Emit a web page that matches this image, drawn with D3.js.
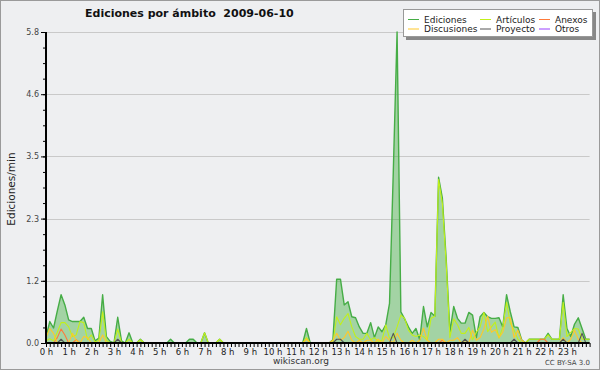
<!DOCTYPE html>
<html><head><meta charset="utf-8">
<script src="https://cdn.jsdelivr.net/npm/d3@7"></script>
<style>
html,body{margin:0;padding:0;background:#eeeff1;}
svg{display:block;font-family:"DejaVu Sans",sans-serif;}
</style></head>
<body>
<svg id="c" width="600" height="370"></svg>
<script>
// ---- data (10-minute steps, 0:00 .. 24:00) ----
const hourLabels = ["0 h","1 h","2 h","3 h","4 h","5 h","6 h","7 h","8 h","9 h","10 h","11 h","12 h","13 h","14 h","15 h","16 h","17 h","18 h","19 h","20 h","21 h","22 h","23 h"];
const yTickValues = [0, 1.16, 2.32, 3.48, 4.64, 5.8];
const yTickLabels = ["0.0","1.2","2.3","3.5","4.6","5.8"];
const seriesNames = ["Ediciones","Artículos","Anexos","Discusiones","Proyecto","Otros"];
const seriesColors = ["#46ad46","#c2f01a","#ff7a3a","#ffc82a","#555555","#9a40ff"];

const ediciones = [
 0.12,0.40,0.28,0.60,0.90,0.71,
 0.43,0.40,0.40,0.40,0.48,0.27,
 0.27,0.04,0.09,0.90,0.12,0.03,
 0,0.48,0.04,0,0.19,0,
 0,0.07,0,0,0,0,
 0,0,0,0.07,0,0,
 0,0,0.07,0.07,0,0,
 0.19,0,0,0,0.07,0,
 0,0,0,0,0,0,
 0,0,0,0,0,0,
 0,0,0,0,0,0,
 0,0,0,0.27,0,0,
 0,0,0,0,0.06,1.19,
 1.19,0.71,0.77,0.49,0.47,0.30,
 0.18,0.18,0.38,0.10,0.30,0.21,
 0.34,0.74,3.20,5.80,0.58,0.45,
 0.30,0.18,0.27,0.06,0.68,0.30,
 0.57,0.50,3.09,2.70,1.58,0.21,
 0.68,0.46,0.37,0.37,0.57,0.52,
 0.10,0.49,0.57,0.49,0.46,0.46,
 0.47,0.30,0.90,0.58,0.30,0.29,
 0.06,0,0.07,0.07,0.07,0.07,
 0.07,0.18,0.07,0.07,0.07,0.90,
 0.27,0.12,0.35,0.47,0.27,0.07,
 0.07];
const articulos = [
 0.04,0.08,0.04,0.20,0.38,0.38,
 0.30,0.12,0.15,0.40,0.38,0.06,
 0.15,0.02,0.05,0.58,0.05,0,
 0,0.26,0,0,0.07,0,
 0,0.06,0,0,0,0,
 0,0,0,0,0,0,
 0,0,0,0,0,0,
 0.19,0,0,0,0.07,0,
 0,0,0,0,0,0,
 0,0,0,0,0,0,
 0,0,0,0,0,0,
 0,0,0,0.10,0,0,
 0,0,0,0,0,0.49,
 0.34,0.46,0.55,0.30,0.12,0.07,
 0.07,0.18,0.06,0.10,0.03,0.05,
 0.34,0.09,0.10,0.30,0.52,0.46,
 0.24,0.15,0.12,0.15,0.12,0.05,
 0.46,0.50,3.05,2.60,1.50,0.10,
 0.45,0.34,0.18,0.18,0.29,0.06,
 0.20,0.30,0.57,0.21,0.30,0.39,
 0.09,0.30,0.76,0.37,0.24,0.07,
 0,0,0.07,0.07,0.07,0.07,
 0.07,0.15,0.07,0.07,0.07,0.76,
 0.12,0.20,0.27,0.26,0.07,0.07,
 0.07];
const anexos = [
 0,0,0,0.10,0.26,0.15,
 0,0,0.06,0,0,0,
 0,0,0,0,0,0,
 0,0,0,0,0,0,
 0,0,0,0,0,0,
 0,0,0,0,0,0,
 0,0,0,0,0,0,
 0,0,0,0,0,0,
 0,0,0,0,0,0,
 0,0,0,0,0,0,
 0,0,0,0,0,0,
 0,0,0,0,0,0,
 0,0,0,0,0,0,
 0,0,0,0,0,0,
 0,0,0,0,0,0,
 0,0,0,0,0,0,
 0,0,0,0,0,0,
 0,0,0,0.05,0,0,
 0,0,0,0,0,0,
 0,0,0,0,0,0,
 0,0,0,0,0,0,
 0,0,0,0,0,0.07,
 0.07,0,0,0,0,0,
 0,0,0,0,0,0,
 0];
const discusiones = [
 0.10,0.27,0.18,0,0,0,
 0,0.18,0.05,0,0.12,0.10,
 0,0,0,0.15,0,0,
 0,0,0,0,0,0,
 0,0,0,0,0,0,
 0,0,0,0,0,0,
 0,0,0,0,0,0,
 0,0,0,0,0,0,
 0,0,0,0,0,0,
 0,0,0,0,0,0,
 0,0,0,0,0,0,
 0,0,0,0.07,0,0,
 0,0,0,0,0.05,0.18,
 0.05,0.10,0.22,0.05,0,0.05,
 0,0.05,0.05,0,0.07,0,
 0.12,0.05,0,0.18,0.05,0,
 0,0.05,0,0.05,0.28,0.05,
 0,0,0.07,0.07,0,0.05,
 0.05,0.10,0,0.05,0,0.24,
 0.05,0.10,0.26,0.50,0.20,0.25,
 0.10,0.20,0.47,0.47,0.10,0.24,
 0.05,0,0,0,0,0,
 0,0,0,0,0,0.10,
 0,0.07,0.24,0.07,0,0,
 0];
const proyecto = [
 0,0,0,0,0.07,0,
 0,0,0,0,0,0,
 0,0,0,0,0,0,
 0,0.07,0,0,0,0,
 0,0,0,0,0,0,
 0,0,0,0,0,0,
 0,0,0,0,0,0,
 0,0,0,0,0,0,
 0,0,0,0,0,0,
 0,0,0,0,0,0,
 0,0,0,0,0,0,
 0,0,0,0,0,0,
 0,0,0,0,0,0.07,
 0.07,0,0,0,0,0,
 0,0,0,0,0,0,
 0,0,0.18,0,0,0,
 0,0,0,0,0,0,
 0,0,0,0,0,0,
 0,0,0,0.07,0,0,
 0,0,0,0,0,0,
 0,0,0,0,0.07,0,
 0,0,0,0,0,0,
 0,0,0,0,0,0.07,
 0,0,0,0,0.18,0,
 0];
const otros = [
 0,0,0,0,0,0, 0,0,0,0,0,0, 0,0,0,0,0,0, 0,0,0,0,0,0,
 0,0,0,0,0,0, 0,0,0,0,0,0, 0,0,0,0,0,0, 0,0,0,0,0,0,
 0,0,0,0,0,0, 0,0,0,0,0,0, 0,0,0,0,0,0, 0,0,0,0,0,0,
 0,0,0,0,0,0, 0,0,0,0,0,0, 0,0,0,0,0,0, 0,0,0,0,0,0,
 0,0,0,0,0,0, 0,0,0,0,0,0, 0,0,0,0,0,0, 0,0,0,0,0,0,
 0,0,0,0,0,0, 0,0,0,0,0,0, 0,0,0,0,0,0, 0,0,0,0,0,0,
 0];

// ---- drawing ----
const svg = d3.select("#c");
const W = 600, H = 370;
const x = d3.scaleLinear().domain([0, 144]).range([46, 589.6]);
const y = d3.scaleLinear().domain([0, 5.8]).range([343, 32]);

svg.append("rect").attr("x",0.5).attr("y",0.5).attr("width",W-1).attr("height",H-1)
  .attr("fill","#eeeff1").attr("stroke","#9a9a9a");

// grid
svg.append("g").selectAll("line").data(yTickValues.slice(1)).join("line")
  .attr("x1",x(0)).attr("x2",x(144)).attr("y1",d=>Math.round(y(d))+0.5).attr("y2",d=>Math.round(y(d))+0.5)
  .attr("stroke","#c9c9c9").attr("stroke-width",1);

// area + lines
const idx = d3.range(ediciones.length);
const area = d3.area().x(i=>x(i)).y0(y(0)).y1(i=>y(ediciones[i]));
svg.append("path").attr("d", area(idx)).attr("fill","#33aa33").attr("fill-opacity",0.4);

const seriesData = [ediciones, articulos, anexos, discusiones, proyecto, otros];
const line = vals => d3.line().x(i=>x(i)).y(i=>y(vals[i]))(idx);
[0,1,2,3,4,5].forEach(k=>{
  svg.append("path").attr("d", line(seriesData[k])).attr("fill","none")
    .attr("stroke", seriesColors[k]).attr("stroke-width", k===0?1.4:1.1).attr("stroke-linejoin","round");
});

// x axis
const gx = svg.append("g").attr("transform",`translate(0,${y(0)})`);
gx.call(d3.axisBottom(x).tickValues(d3.range(0,145)).tickSize(4).tickFormat(""));
gx.select(".domain").remove();
gx.selectAll("line").attr("stroke","#000");
const gxl = svg.append("g").attr("transform",`translate(0,${y(0)})`);
gxl.call(d3.axisBottom(x).tickValues(d3.range(0,144,6)).tickSize(0).tickPadding(6).tickFormat((d,i)=>hourLabels[i]));
gxl.select(".domain").remove();
gxl.selectAll("text").attr("font-family","DejaVu Sans").attr("font-size",8.5).attr("fill","#222");

// y axis
const minor = d3.range(0,21).map(k=>k*0.29);
const gym = svg.append("g").attr("transform",`translate(${x(0)},0)`);
gym.call(d3.axisLeft(y).tickValues(minor).tickSize(3).tickFormat(""));
gym.select(".domain").remove();
gym.selectAll("line").attr("stroke","#000");
const gy = svg.append("g").attr("transform",`translate(${x(0)},0)`);
gy.call(d3.axisLeft(y).tickValues(yTickValues).tickSize(5).tickPadding(2).tickFormat((d,i)=>yTickLabels[i]));
gy.select(".domain").remove();
gy.selectAll("line").attr("stroke","#000");
gy.selectAll("text").attr("font-family","DejaVu Sans").attr("font-size",8).attr("fill","#444");

// axis lines
svg.append("line").attr("x1",x(0)).attr("x2",x(0)).attr("y1",y(5.8)).attr("y2",y(0)+1)
  .attr("stroke","#000").attr("stroke-width",2);
svg.append("line").attr("x1",x(0)).attr("x2",x(144)).attr("y1",y(0)).attr("y2",y(0))
  .attr("stroke","#000").attr("stroke-width",2);

// title
svg.append("text").attr("x",85).attr("y",17).attr("font-size",11).attr("font-weight","bold")
  .attr("fill","#111").attr("xml:space","preserve").style("white-space","pre")
  .text("Ediciones por ámbito  2009-06-10");

// y title
svg.append("text").attr("transform","translate(15,189) rotate(-90)").attr("text-anchor","middle")
  .attr("font-size",10.5).attr("fill","#222").text("Ediciones/min");

// footer
svg.append("text").attr("x",301).attr("y",364).attr("text-anchor","middle").attr("font-size",9)
  .attr("fill","#333").text("wikiscan.org");
svg.append("text").attr("x",590).attr("y",365).attr("text-anchor","end").attr("font-size",7)
  .attr("fill","#444").text("CC BY-SA 3.0");

// legend
const lg = svg.append("g");
lg.append("rect").attr("x",406).attr("y",12).attr("width",190).attr("height",28).attr("fill","#888");
lg.append("rect").attr("x",403.5).attr("y",9.5).attr("width",189).attr("height",27)
  .attr("fill","#fff").attr("stroke","#999").attr("stroke-width",1);
const legCols = [408, 480, 539];
const legRows = [19.5, 29];
const legPos = [[0,0],[1,0],[2,0],[0,1],[1,1],[2,1]];
seriesNames.forEach((n,k)=>{
  const [c,r] = legPos[k];
  lg.append("line").attr("x1",legCols[c]).attr("x2",legCols[c]+11)
    .attr("y1",legRows[r]).attr("y2",legRows[r]).attr("stroke",seriesColors[k]).attr("stroke-width",1);
  lg.append("text").attr("x",legCols[c]+16).attr("y",legRows[r]+3.3).attr("font-size",9)
    .attr("fill","#222").text(n);
});
</script>
</body></html>
